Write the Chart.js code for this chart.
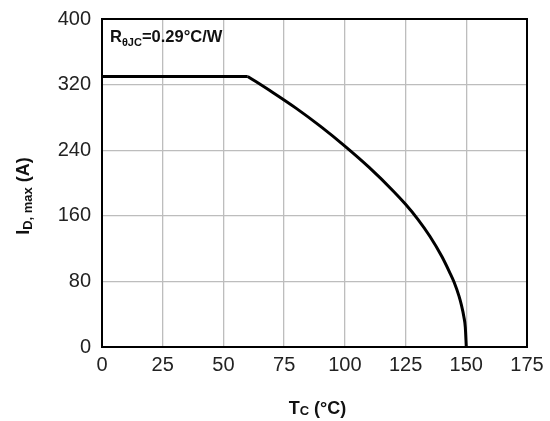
<!DOCTYPE html>
<html>
<head>
<meta charset="utf-8">
<script src="https://cdn.jsdelivr.net/npm/chart.js@4.4.1/dist/chart.umd.min.js"></script>
<style>
html,body{margin:0;padding:0;background:#fff;}
#wrap{width:550px;height:421px;position:relative;}
</style>
</head>
<body>
<div id="wrap"><canvas id="c" width="550" height="421"></canvas></div>
<script>
// Data
const flatTc = [0, 60];
const flatId = [330, 330];
const curveTc = [60, 70, 80, 90, 100, 110, 120, 125, 130, 135, 140, 143, 145, 147, 148, 149, 149.6, 150];
const curveId = [330, 311, 291, 269, 245, 219, 190, 174, 156, 135, 110, 92, 79, 62, 51, 37, 24, 0];
const xTicks = [0, 25, 50, 75, 100, 125, 150, 175];
const yTicks = [0, 80, 160, 240, 320, 400];

const toPts = (xs, ys) => xs.map((x, i) => ({x: x, y: ys[i]}));

const FONT = '"Liberation Sans", Arial, sans-serif';

function drawSubText(ctx, parts, x, y, align) {
  let total = 0;
  parts.forEach(p => { ctx.font = 'bold ' + p.size + 'px ' + FONT; p.w = ctx.measureText(p.t).width; total += p.w; });
  let cx = align === 'center' ? x - total / 2 : x;
  parts.forEach(p => {
    ctx.font = 'bold ' + p.size + 'px ' + FONT;
    ctx.fillText(p.t, cx, y + (p.dy || 0));
    cx += p.w;
  });
}

const framePlugin = {
  id: 'frame',
  afterDraw(chart) {
    const {ctx, chartArea: a} = chart;
    ctx.save();
    ctx.strokeStyle = '#000';
    ctx.lineWidth = 2;
    ctx.strokeRect(a.left, a.top, a.right - a.left, a.bottom - a.top);
    ctx.fillStyle = '#111';
    ctx.textBaseline = 'alphabetic';
    ctx.textAlign = 'left';
    drawSubText(ctx, [
      {t: 'R', size: 16.5},
      {t: 'θJC', size: 11, dy: 4},
      {t: '=0.29°C/W', size: 16.5}
    ], 110, 42, 'left');
    drawSubText(ctx, [
      {t: 'T', size: 18},
      {t: 'C', size: 13, dy: 1},
      {t: ' (°C)', size: 18}
    ], (a.left + a.right) / 2 + 3, 414, 'center');
    ctx.translate(29, 196);
    ctx.rotate(-Math.PI / 2);
    drawSubText(ctx, [
      {t: 'I', size: 18},
      {t: 'D, max', size: 13, dy: 3},
      {t: ' (A)', size: 18}
    ], 0, 0, 'center');
    ctx.restore();
  }
};

new Chart(document.getElementById('c'), {
  type: 'line',
  data: {
    datasets: [
      {data: toPts(flatTc, flatId), borderColor: '#000', borderWidth: 3, pointRadius: 0, tension: 0},
      {data: toPts(curveTc, curveId), borderColor: '#000', borderWidth: 3, pointRadius: 0, cubicInterpolationMode: 'monotone'}
    ]
  },
  options: {
    responsive: false,
    animation: false,
    devicePixelRatio: 1,
    layout: {padding: {left: 0, top: 19, right: 23, bottom: 0}},
    plugins: {legend: {display: false}, tooltip: {enabled: false}},
    scales: {
      x: {
        type: 'linear', min: 0, max: 175,
        afterBuildTicks(s) { s.ticks = xTicks.map(v => ({value: v})); },
        afterFit(s) { s.height = 74; s.paddingLeft = 0; s.paddingRight = 0; },
        grid: {color: '#bdbdbd', lineWidth: 1.3, drawTicks: false},
        border: {display: false},
        ticks: {padding: 6, color: '#222', font: {family: FONT, size: 20}, maxRotation: 0}
      },
      y: {
        type: 'linear', min: 0, max: 400,
        afterBuildTicks(s) { s.ticks = yTicks.map(v => ({value: v})); },
        afterFit(s) { s.width = 102; s.paddingTop = 0; s.paddingBottom = 0; },
        grid: {color: '#bdbdbd', lineWidth: 1.3, drawTicks: false},
        border: {display: false},
        ticks: {padding: 11, color: '#222', font: {family: FONT, size: 20}}
      }
    }
  },
  plugins: [framePlugin]
});
</script>
</body>
</html>
